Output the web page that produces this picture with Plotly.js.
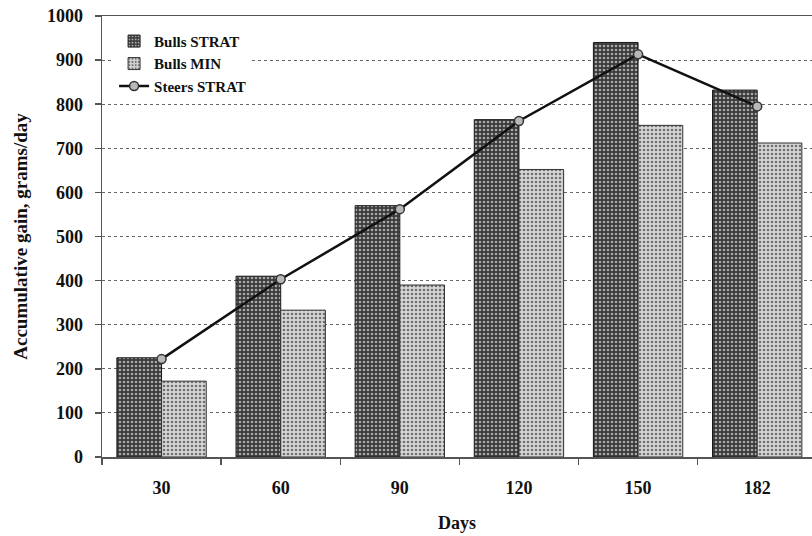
<!DOCTYPE html>
<html>
<head>
<meta charset="utf-8">
<script src="https://cdn.plot.ly/plotly-3.0.1.min.js"></script>
<style>html,body{margin:0;padding:0;background:#fff;}#chart{width:812px;height:536px;}</style>
</head>
<body>
<div id="chart"></div>
<script>
const days = ["30", "60", "90", "120", "150", "182"];
const bullsStrat = [225, 410, 570, 765, 940, 832];
const bullsMin = [172, 333, 390, 652, 752, 712];
const steersStrat = [222, 403, 562, 762, 913, 795];
const yTicks = [0, 100, 200, 300, 400, 500, 600, 700, 800, 900, 1000];

const font = "Liberation Serif, Times New Roman, serif";

const traces = [
  {
    type: "bar", name: "Bulls STRAT", x: days, y: bullsStrat,
    marker: {
      color: "#3c3c3c",
      line: {color: "#1a1a1a", width: 1},
      pattern: {shape: ".", bgcolor: "#3a3a3a", fgcolor: "#a8a8a8", size: 4, solidity: 0.35}
    }
  },
  {
    type: "bar", name: "Bulls MIN", x: days, y: bullsMin,
    marker: {
      color: "#c4c4c4",
      line: {color: "#333", width: 1},
      pattern: {shape: ".", bgcolor: "#d6d6d6", fgcolor: "#707070", size: 4, solidity: 0.35}
    }
  },
  {
    type: "scatter", mode: "lines+markers", name: "Steers STRAT", x: days, y: steersStrat,
    line: {color: "#111", width: 2.5},
    marker: {symbol: "circle", size: 9, color: "#b8b8b8", line: {color: "#333", width: 1.5}}
  }
];

const layout = {
  width: 812, height: 536,
  margin: {l: 102, r: 0, t: 16, b: 79},
  paper_bgcolor: "#fff", plot_bgcolor: "#fff",
  barmode: "group", bargap: 0.25, bargroupgap: 0,
  showlegend: true,
  legend: {
    x: 0.017, y: 0.98, xanchor: "left", yanchor: "top",
    bgcolor: "#fff", borderwidth: 0,
    font: {family: font, size: 15, color: "#111", weight: "bold"},
    tracegroupgap: 0, itemwidth: 30
  },
  font: {family: font, color: "#111"},
  xaxis: {
    type: "category", range: [-0.5, 5.46],
    showline: true, linecolor: "#555", linewidth: 1.5, mirror: true,
    ticks: "outside", tickson: "boundaries", ticklen: 6, tickcolor: "#555", tickwidth: 1.5,
    showgrid: false,
    tickfont: {family: font, size: 18, color: "#111", weight: "bold"},
    ticklabelstandoff: 14,
    title: {text: "Days", font: {family: font, size: 18, color: "#111", weight: "bold"}, standoff: 19}
  },
  yaxis: {
    range: [0, 1000], tickvals: yTicks, ticktext: yTicks.map(String),
    showline: true, linecolor: "#555", linewidth: 1.5,
    ticks: "outside", ticklen: 6, tickcolor: "#555", tickwidth: 1.5,
    showgrid: true, gridcolor: "#666", griddash: "dot", gridwidth: 1,
    zeroline: false,
    tickfont: {family: font, size: 18, color: "#111", weight: "bold"},
    ticklabelstandoff: 8,
    title: {text: "Accumulative gain, grams/day", font: {family: font, size: 19, color: "#111", weight: "bold"}, standoff: 14}
  }
};

Plotly.newPlot("chart", traces, layout, {displayModeBar: false, staticPlot: true});
</script>
</body>
</html>
